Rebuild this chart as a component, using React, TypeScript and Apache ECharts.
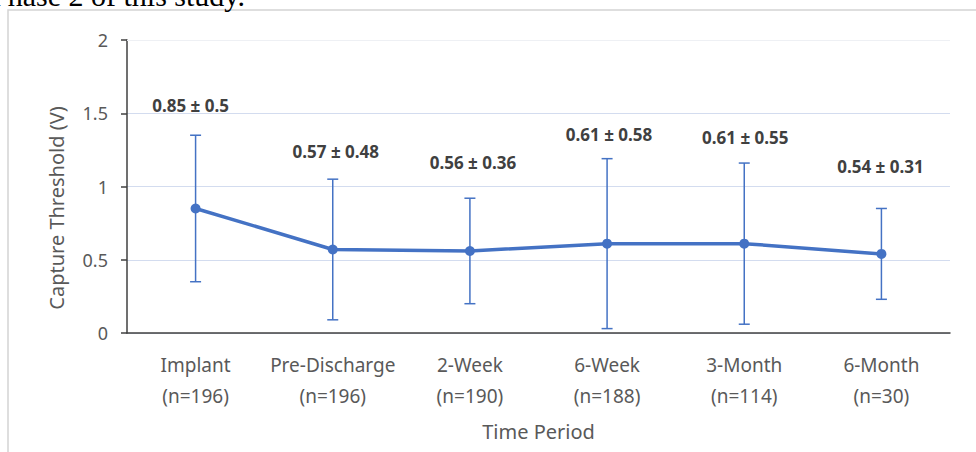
import React, { useEffect, useRef } from "react";
import * as echarts from "echarts";

const categories = [
  "Implant\n(n=196)",
  "Pre-Discharge\n(n=196)",
  "2-Week\n(n=190)",
  "6-Week\n(n=188)",
  "3-Month\n(n=114)",
  "6-Month\n(n=30)",
];
const means = [0.85, 0.57, 0.56, 0.61, 0.61, 0.54];
const sds = [0.5, 0.48, 0.36, 0.58, 0.55, 0.31];
const yTicks = [0, 0.5, 1, 1.5, 2];

// label placement tweaks (pixels) – style only
const labelLift = [30, 28, 36, 24, 26, 42];
const labelShift = [-5, 3, 3, 2, 1, -1];

const BLUE = "#4472C4";
const FONT = "'Noto Sans', 'Open Sans', sans-serif";

export default function App() {
  const ref = useRef<HTMLDivElement>(null);
  useEffect(() => {
    if (!ref.current) return;
    const chart = echarts.init(ref.current, undefined, { renderer: "svg" });
    const labels = means.map((m, i) => `${m} ± ${sds[i]}`);
    const errData = means.map((m, i) => [i, +(m - sds[i]).toFixed(2), +(m + sds[i]).toFixed(2)]);
    chart.setOption({
      animation: false,
      backgroundColor: "#ffffff",
      grid: { left: 127, right: 26, top: 40, bottom: 119 },
      graphic: [
        {
          type: "rect",
          shape: { x: 8, y: 10, width: 1000, height: 500 },
          style: { fill: "none", stroke: "#d4d4d4", lineWidth: 1.5 },
          silent: true,
          z: -1,
        },
        {
          type: "text",
          x: -9,
          y: -5,
          style: {
            text: "Phase 2 of this study.",
            fill: "#000000",
            fontSize: 30,
            fontFamily: "'Liberation Serif', 'Times New Roman', serif",
            verticalAlign: "middle",
            align: "left",
          },
        },
        {
          type: "text",
          x: 56,
          y: 208,
          rotation: Math.PI / 2,
          style: {
            text: "Capture Threshold (V)",
            fill: "#595959",
            fontSize: 20,
            fontFamily: FONT,
            align: "center",
            verticalAlign: "middle",
          },
        },
      ],
      xAxis: {
        type: "category",
        data: categories,
        boundaryGap: true,
        name: "Time Period",
        nameLocation: "middle",
        nameGap: 88,
        nameTextStyle: { color: "#595959", fontSize: 20, fontFamily: FONT },
        axisLine: { show: true, lineStyle: { color: "#404040", width: 1.5 } },
        axisTick: { show: false },
        axisLabel: {
          color: "#595959",
          fontSize: 19,
          fontFamily: FONT,
          lineHeight: 31,
          margin: 16,
          interval: 0,
        },
        splitLine: { show: false },
      },
      yAxis: {
        type: "value",
        min: 0,
        max: 2,
        interval: 0.5,
        axisLine: { show: true, lineStyle: { color: "#404040", width: 1.5 } },
        axisTick: { show: true, length: 6, lineStyle: { color: "#404040", width: 1.5 } },
        axisLabel: {
          color: "#595959",
          fontSize: 18,
          fontFamily: FONT,
          margin: 19,
          formatter: (v: number) => (yTicks.includes(v) ? String(v) : ""),
        },
        splitLine: { show: true, showMaxLine: false, lineStyle: { color: "#D3DCEF", width: 1 } },
      },
      series: [
        {
          type: "custom",
          z: 1,
          data: errData,
          renderItem: (params: any, api: any) => {
            const i = api.value(0);
            const lo = api.coord([i, api.value(1)]);
            const hi = api.coord([i, api.value(2)]);
            const x = lo[0];
            const cap = 5.5;
            const style = { stroke: BLUE, lineWidth: 1.5 };
            return {
              type: "group",
              children: [
                { type: "line", shape: { x1: x, y1: hi[1], x2: x, y2: lo[1] }, style },
                { type: "line", shape: { x1: x - cap, y1: hi[1], x2: x + cap, y2: hi[1] }, style },
                { type: "line", shape: { x1: x - cap, y1: lo[1], x2: x + cap, y2: lo[1] }, style },
                {
                  type: "text",
                  x: x + labelShift[i],
                  y: hi[1] - labelLift[i],
                  style: {
                    text: labels[i],
                    fill: "#404040",
                    fontSize: 17,
                    fontWeight: "bold",
                    fontFamily: FONT,
                    align: "center",
                    verticalAlign: "middle",
                  },
                },
              ],
            };
          },
        },
        {
          type: "line",
          z: 3,
          data: means,
          symbol: "circle",
          symbolSize: 10,
          itemStyle: { color: BLUE },
          lineStyle: { color: BLUE, width: 3.5 },
          markLine: {
            silent: true,
            symbol: "none",
            label: { show: false },
            lineStyle: { color: "#EEF0F4", width: 1, type: "solid" },
            data: [{ yAxis: 2 }],
          },
        },
      ],
    });
    return () => chart.dispose();
  }, []);
  return (
    <div
      ref={ref}
      style={{ position: "absolute", left: 0, top: 0, width: 976, height: 452 }}
    />
  );
}
